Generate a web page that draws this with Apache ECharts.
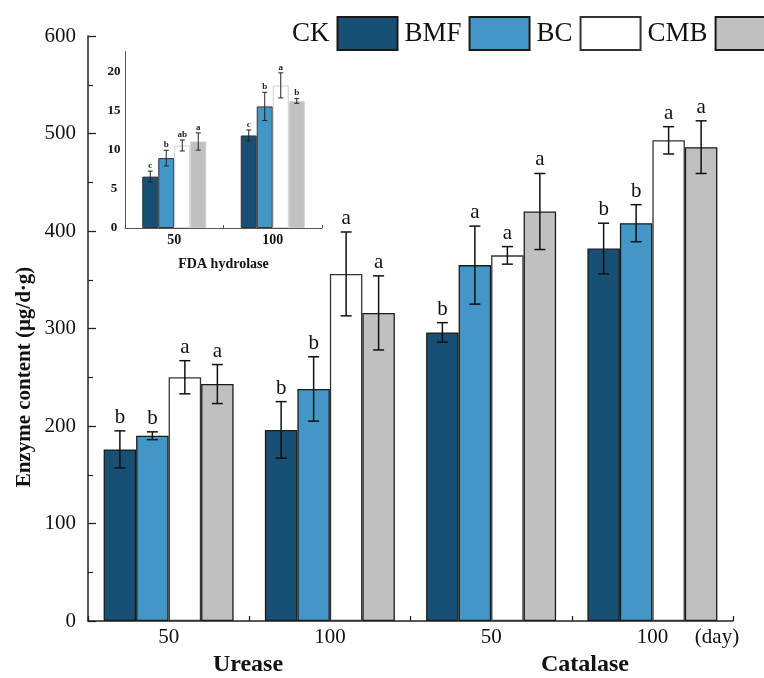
<!DOCTYPE html>
<html><head><meta charset="utf-8">
<script src="https://cdn.jsdelivr.net/npm/echarts@6/dist/echarts.min.js"></script>
<style>html,body{margin:0;padding:0;background:#fff}#c{width:764px;height:678px}</style>
</head><body><div id="c"></div>
<script>
// ---- main chart data ----
const mainCategories = ['50', '100', '50', '100'];
const seriesNames = ['CK', 'BMF', 'BC', 'CMB'];
const ckValues  = [176, 196, 296, 382];
const ckErr     = [19, 29, 10, 26];
const ckLetters = ['b', 'b', 'b', 'b'];
const bmfValues  = [190, 238, 365, 408];
const bmfErr     = [4, 33, 40, 19];
const bmfLetters = ['b', 'b', 'a', 'b'];
const bcValues  = [250, 356, 375, 493];
const bcErr     = [17, 43, 9, 14];
const bcLetters = ['a', 'a', 'a', 'a'];
const cmbValues  = [243, 316, 420, 486];
const cmbErr     = [20, 38, 39, 27];
const cmbLetters = ['a', 'a', 'a', 'a'];
const groupLabels = ['Urease', 'Catalase'];

// ---- inset (FDA hydrolase) data ----
const insetCategories = ['50', '100'];
const insetCk  = [6.56, 11.81];
const insetCkErr = [0.7, 0.7];
const insetCkLetters = ['c', 'c'];
const insetBmf = [8.92, 15.52];
const insetBmfErr = [1.0, 1.8];
const insetBmfLetters = ['b', 'b'];
const insetBc  = [10.53, 18.2];
const insetBcErr = [0.7, 1.6];
const insetBcLetters = ['ab', 'a'];
const insetCmb = [11.04, 16.21];
const insetCmbErr = [1.1, 0.3];
const insetCmbLetters = ['a', 'b'];

const FONT = 'Liberation Serif';
const colors = ['#184f74', '#4397c6', '#ffffff', '#c0c0c0'];
const mainBorders = ['#1a1a1a', '#1a1a1a', '#333333', '#1a1a1a'];
const insetBorders = ['#333333', '#333333', '#d0d0d0', '#cfcfcf'];
const MAIN_GAP = 0.194, INSET_GAP = 0.35;

const mainData = [ckValues, bmfValues, bcValues, cmbValues];
const mainErrs = [ckErr, bmfErr, bcErr, cmbErr];
const mainLets = [ckLetters, bmfLetters, bcLetters, cmbLetters];
const insData = [insetCk, insetBmf, insetBc, insetCmb];
const insErrs = [insetCkErr, insetBmfErr, insetBcErr, insetCmbErr];
const insLets = [insetCkLetters, insetBmfLetters, insetBcLetters, insetCmbLetters];

function errSeries(axisIdx, sIdx, values, errs, letters, gap, cfg) {
  return {
    type: 'custom', name: seriesNames[sIdx] + '_err' + axisIdx,
    xAxisIndex: axisIdx, yAxisIndex: axisIdx, z: 10, silent: true,
    data: values.map((v, i) => [i, v, errs[i]]),
    renderItem: function (params, api) {
      const ci = api.value(0), v = api.value(1), e = api.value(2);
      const band = api.size([1, 0])[0];
      const bw = band * (1 - gap) / 4;
      const cx = api.coord([ci, v])[0] + (sIdx - 1.5) * bw;
      const yt = api.coord([ci, v + e])[1];
      const yb = api.coord([ci, v - e])[1];
      const hw = cfg.cap / 2;
      const ls = { stroke: cfg.color, lineWidth: cfg.lw };
      return {
        type: 'group', children: [
          { type: 'line', shape: { x1: cx, y1: yt, x2: cx, y2: yb }, style: ls },
          { type: 'line', shape: { x1: cx - hw, y1: yt, x2: cx + hw, y2: yt }, style: ls },
          { type: 'line', shape: { x1: cx - hw, y1: yb, x2: cx + hw, y2: yb }, style: ls },
          { type: 'text', style: { text: letters[params.dataIndex], x: cx, y: yt - cfg.off,
              align: 'center', verticalAlign: 'bottom', fill: cfg.textColor,
              font: cfg.font } }
        ]
      };
    }
  };
}

const series = [];
seriesNames.forEach((n, i) => {
  series.push({
    type: 'bar', name: n, xAxisIndex: 0, yAxisIndex: 0,
    data: mainData[i], barGap: '0%', barCategoryGap: (MAIN_GAP * 100) + '%',
    itemStyle: { color: colors[i], borderColor: mainBorders[i], borderWidth: 1.3 }
  });
});
seriesNames.forEach((n, i) => {
  series.push({
    type: 'bar', name: n, xAxisIndex: 1, yAxisIndex: 1,
    data: insData[i], barGap: '0%', barCategoryGap: (INSET_GAP * 100) + '%',
    itemStyle: { color: colors[i], borderColor: insetBorders[i], borderWidth: 1 }
  });
});
seriesNames.forEach((n, i) => {
  series.push(errSeries(0, i, mainData[i], mainErrs[i], mainLets[i], MAIN_GAP,
    { cap: 11, lw: 1.5, color: '#111', off: 3, textColor: '#111', font: '21px "Liberation Serif"' }));
  series.push(errSeries(1, i, insData[i], insErrs[i], insLets[i], INSET_GAP,
    { cap: 5, lw: 1, color: '#222', off: 1, textColor: '#222', font: 'bold 9px "Liberation Serif"' }));
});

const chart = echarts.init(document.getElementById('c'), null, { renderer: 'canvas' });
chart.setOption({
  animation: false,
  backgroundColor: '#fff',
  legend: {
    data: seriesNames.map(n => ({ name: n, icon: 'rect' })),
    left: 287, top: 11, width: 520,
    align: 'right', itemWidth: 60, itemHeight: 33, itemGap: 6,
    selectedMode: false,
    textStyle: { fontFamily: FONT, fontSize: 27, color: '#111', padding: [0, 3, 0, 0] }
  },
  grid: [
    { left: 88, right: 31, top: 36, bottom: 57 },
    { left: 125, right: 442, top: 51.7, bottom: 450 }
  ],
  xAxis: [
    {
      type: 'category', gridIndex: 0, data: mainCategories,
      axisLine: { lineStyle: { color: '#222', width: 1.5 } },
      axisTick: { show: true, inside: true, length: 5, lineStyle: { color: '#222', width: 1.3 } },
      axisLabel: { fontFamily: FONT, fontSize: 21, color: '#111', margin: 6 }
    },
    {
      type: 'category', gridIndex: 1, data: insetCategories,
      axisLine: { lineStyle: { color: '#555', width: 1 } },
      axisTick: { show: true, inside: true, length: 3, lineStyle: { color: '#555' } },
      axisLabel: { fontFamily: FONT, fontSize: 14, fontWeight: 'bold', color: '#111', margin: 5 },
      name: 'FDA hydrolase', nameLocation: 'middle', nameGap: 29,
      nameTextStyle: { fontFamily: FONT, fontSize: 14, fontWeight: 'bold', color: '#111' }
    }
  ],
  yAxis: [
    {
      type: 'value', gridIndex: 0, min: 0, max: 600, interval: 100,
      splitLine: { show: false },
      axisLine: { show: true, lineStyle: { color: '#222', width: 1.5 } },
      axisTick: { show: true, inside: true, length: 8, lineStyle: { color: '#222', width: 1.3 } },
      minorTick: { show: true, splitNumber: 2, length: 5, lineStyle: { color: '#222', width: 1.2 } },
      axisLabel: { fontFamily: FONT, fontSize: 21, color: '#111', margin: 12 }
    },
    {
      type: 'value', gridIndex: 1, min: 0, max: 22.5, interval: 5,
      splitLine: { show: false },
      axisLine: { show: true, lineStyle: { color: '#555', width: 1 } },
      axisTick: { show: false },
      axisLabel: {
        fontFamily: FONT, fontSize: 13, fontWeight: 'bold', color: '#111', margin: 11, align: 'center',
        formatter: v => (v % 5 === 0 ? String(v) : '')
      }
    }
  ],
  graphic: [
    { type: 'text', x: 248, y: 665, style: { text: groupLabels[0], font: 'bold 24px "Liberation Serif"', fill: '#111', align: 'center', verticalAlign: 'middle' } },
    { type: 'text', x: 585, y: 665, style: { text: groupLabels[1], font: 'bold 24px "Liberation Serif"', fill: '#111', align: 'center', verticalAlign: 'middle' } },
    { type: 'text', x: 717, y: 637, style: { text: '(day)', font: '21px "Liberation Serif"', fill: '#111', align: 'center', verticalAlign: 'middle' } },
    { type: 'text', x: 25, y: 377, rotation: Math.PI / 2, style: { text: 'Enzyme content (μg/d·g)', font: 'bold 21px "Liberation Serif"', fill: '#111', align: 'center', verticalAlign: 'middle' } }
  ],
  series: series
});
</script>
</body></html>
